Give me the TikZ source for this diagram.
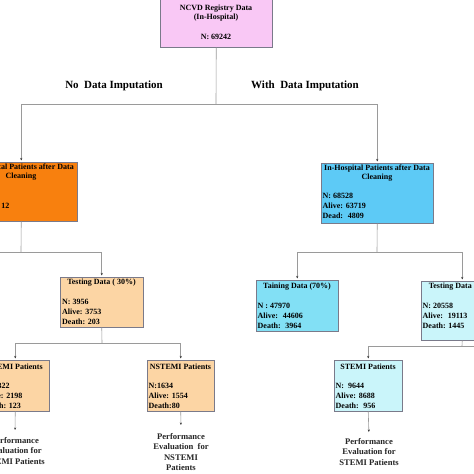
\documentclass[tikz,border=0pt]{standalone}
\usepackage{fontspec}
\setmainfont{Liberation Serif}
\usetikzlibrary{positioning}
\usetikzlibrary{arrows.meta}

\definecolor{regpink}{HTML}{F9C8F5}
\definecolor{cleanorange}{HTML}{F8800E}
\definecolor{paleorange}{HTML}{FCD5A4}
\definecolor{cleanblue}{HTML}{5DCAF6}
\definecolor{traincyan}{HTML}{82E0F5}
\definecolor{palecyan}{HTML}{CAF5FA}
\definecolor{boxline}{HTML}{7A7A8A}
\definecolor{linegray}{HTML}{9A9A9A}

\begin{document}
\begin{tikzpicture}[x = 1pt, y = -1pt,
		box/.style = {draw = boxline, line width = 0.5pt, inner sep = 0pt, anchor = north west},
		head/.style = {font = \fontsize{8}{9.7}\selectfont\bfseries, align = center, inner sep = 0pt},
		stats/.style = {font = \fontsize{8}{9.7}\selectfont\bfseries, align = left, anchor = west, inner sep = 0pt},
		branch/.style = {font = \fontsize{11}{13}\selectfont\bfseries},
		result/.style = {font = \fontsize{8.6}{10.4}\selectfont\bfseries, text = black!85, align = center, inner sep = 1pt},
		link/.style = {draw = linegray, line width = 0.6pt},
		arrow/.style = {link, -{Stealth[length = 2.5pt, width = 2pt, color = black!80]}, shorten > = 1.5pt}]
	\useasboundingbox (0, 0) rectangle (474, 474);
	\fill [white] (0, 0) rectangle (474, 474);

	% registry
	\node [box, fill = regpink, minimum width = 112pt, minimum height = 49pt] (reg) at (160, -2) {};
	\node [head] (regTitle) at (216, 13) {NCVD Registry Data\\(In-Hospital)};
	\node [head] (regN) at (216, 37) {N: 69242};

	\node [branch] (noImp) at (114, 86) {No~ Data Imputation};
	\node [branch] (withImp) at (305, 86) {With~ Data Imputation};

	% no data imputation
	\node [box, fill = cleanorange, minimum width = 112pt, minimum height = 59pt] (cleanNo) at (-35, 162) {};
	\node [head] (cleanNoTitle) at (21, 172) {In-Hospital Patients after Data\\Cleaning};
	\node [stats, anchor = east] (cleanNoStats) at (9.5, 206) {12};

	\node [box, fill = paleorange, minimum width = 83pt, minimum height = 50pt] (testNo) at (60, 277) {};
	\node [head] (testNoTitle) at (101.5, 283) {Testing Data ( 30\%)};
	\node [stats] (testNoStats) at (62, 312) {N: 3956\\Alive: 3753\\Death: 203};

	\node [box, fill = paleorange, minimum width = 67pt, minimum height = 51pt] (stemiNo) at (-18.5, 360) {};
	\node [head] (stemiNoTitle) at (15, 367) {STEMI Patients};
	\node [stats] (stemiNoStats) at (-17, 396) {N: 2322\\Alive: 2198\\Death: 123};

	\node [box, fill = paleorange, minimum width = 67pt, minimum height = 51pt] (nstemiNo) at (147, 360) {};
	\node [head] (nstemiNoTitle) at (180.5, 367) {NSTEMI Patients};
	\node [stats] (nstemiNoStats) at (148.5, 396) {N:1634\\Alive: 1554\\Death:80};

	\node [result, anchor = north] (evalStemiNo) at (15, 436) {Performance\\Evaluation for\\STEMI Patients};
	\node [result, anchor = north] (evalNstemiNo) at (181, 432) {Performance\\Evaluation~ for\\NSTEMI\\Patients};

	% with data imputation
	\node [box, fill = cleanblue, minimum width = 112pt, minimum height = 60pt] (cleanImp) at (321, 163) {};
	\node [head] (cleanImpTitle) at (377, 173) {In-Hospital Patients after Data\\Cleaning};
	\node [stats] (cleanImpStats) at (322.5, 206) {N: 68528\\Alive: 63719\\Dead:~ 4809};

	\node [box, fill = traincyan, minimum width = 82pt, minimum height = 51pt] (trainImp) at (256, 280) {};
	\node [head] (trainImpTitle) at (297, 287) {Taining Data (70\%)};
	\node [stats] (trainImpStats) at (257.5, 316) {N : 47970\\Alive:~ 44606\\Death:~ 3964};

	\node [box, fill = palecyan, minimum width = 82pt, minimum height = 59pt] (testImp) at (421, 281) {};
	\node [head] (testImpTitle) at (462, 287) {Testing Data (30\%)};
	\node [stats] (testImpStats) at (422.5, 316) {N: 20558\\Alive:~ 19113\\Death: 1445};

	\node [box, fill = palecyan, minimum width = 68pt, minimum height = 51pt] (stemiImp) at (334, 360) {};
	\node [head] (stemiImpTitle) at (368, 367) {STEMI Patients};
	\node [stats] (stemiImpStats) at (335.5, 396) {N:~ 9644\\Alive: 8688\\Death:~ 956};

	\node [result, anchor = north] (evalStemiImp) at (369, 437) {Performance\\Evaluation for\\STEMI Patients};

	% connectors
	\coordinate (jReg) at (216, 104);
	\coordinate (jNo) at (21, 252);
	\coordinate (jTestNo) at (102, 343);
	\coordinate (jImp) at (377, 252);
	\coordinate (jTestImp) at (462, 346);
	\coordinate (offLeft) at (-30, 252);
	\coordinate (offRight) at (500, 346);

	\draw [link] (reg.south) -- (jReg);
	\draw [arrow] (jReg) -| (cleanNo.north);
	\draw [arrow] (jReg) -| (cleanImp.north);

	\draw [link] (cleanNo.south) -- (jNo);
	\draw [link] (jNo) -- (offLeft);
	\draw [arrow] (jNo) -| (testNo.north);
	\draw [link] (testNo.south) -- (jTestNo);
	\draw [arrow] (jTestNo) -| (stemiNo.north);
	\draw [arrow] (jTestNo) -| (nstemiNo.north);
	\draw [arrow, shorten > = 6pt] (stemiNo.south) -- (evalStemiNo.north);
	\draw [arrow, shorten > = 7pt] (nstemiNo.south) -- (evalNstemiNo.north);

	\draw [link] (cleanImp.south) -- (jImp);
	\draw [arrow] (jImp) -| (trainImp.north);
	\draw [arrow] (jImp) -| (testImp.north);
	\draw [link] (testImp.south) -- (jTestImp);
	\draw [link] (jTestImp) -- (offRight);
	\draw [arrow] (jTestImp) -| (stemiImp.north);
	\draw [arrow, shorten > = 5pt] (stemiImp.south) -- (evalStemiImp.north);
\end{tikzpicture}
\end{document}
